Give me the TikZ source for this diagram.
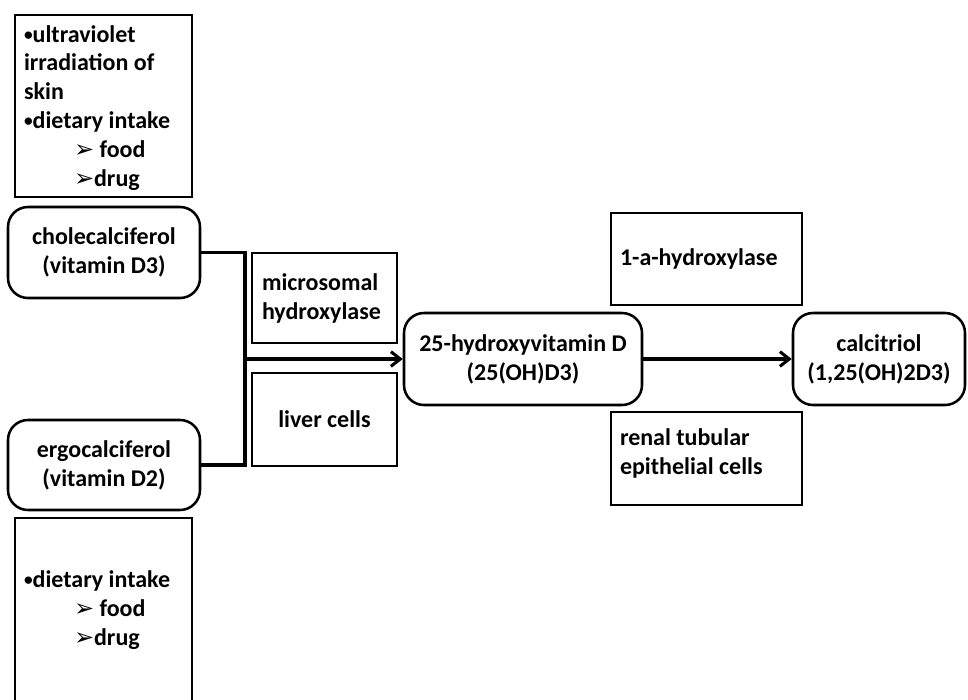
\documentclass[tikz,border=0pt]{standalone}
\usepackage{fontspec}
\setmainfont{Carlito}
\newfontfamily\symf{DejaVu Sans}
\usetikzlibrary{arrows.meta}
\newcommand{\arr}{{\symf\bfseries\fontsize{18}{21.7}\selectfont ➢}}
\newcommand{\blt}{\raisebox{1.5pt}{\fontsize{13}{13}\selectfont •}}
\begin{document}
\begin{tikzpicture}[x=0.75pt,y=-0.75pt,
  txt/.style={font=\bfseries\fontsize{18}{21.7}\selectfont, inner sep=0pt},
  box/.style={txt, draw, line width=1.9pt},
  rbox/.style={box, rounded corners=15pt, align=center},
  ltxt/.style={txt, anchor=west, align=left},
  conn/.style={line width=2.3pt},
  arrowc/.style={conn, -{Straight Barb[length=7pt,width=11pt,line width=2.3pt]}}]
\useasboundingbox (0,0) rectangle (968,700);
\clip (0,0) rectangle (968,700);
\fill[white] (0,0) rectangle (968,700);

% left source boxes
\node[box, minimum width=177*0.75pt, minimum height=182*0.75pt] (src1) at (103.5,106) {};
\node[ltxt] (src1t) at ([xshift=10*0.75pt,yshift=-1.5pt]src1.west) {%
\blt ultraviolet\\irradiation of\\skin\\\blt dietary intake\\
\hspace*{37.5pt}\arr\ food\\\hspace*{37.5pt}\arr drug};

\node[box, minimum width=177*0.75pt, minimum height=184*0.75pt] (src2) at (103.5,610) {};
\node[ltxt] (src2t) at ([xshift=10*0.75pt]src2.west) {%
\blt dietary intake\\
\hspace*{37.5pt}\arr\ food\\\hspace*{37.5pt}\arr drug};

% vitamin D forms
\node[rbox, minimum width=192*0.75pt, minimum height=91*0.75pt] (d3) at (104,252.5) {cholecalciferol\\(vitamin D3)};
\node[rbox, minimum width=192*0.75pt, minimum height=90*0.75pt] (d2) at (104,465) {ergocalciferol\\(vitamin D2)};

% liver step
\node[box, minimum width=145*0.75pt, minimum height=90*0.75pt] (micro) at (324.5,298) {};
\node[ltxt] (microt) at ([xshift=11*0.75pt]micro.west) {microsomal\\hydroxylase};
\node[box, minimum width=145*0.75pt, minimum height=93*0.75pt] (liver) at (324.5,419.5) {liver cells};

\node[rbox, minimum width=238*0.75pt, minimum height=92*0.75pt] (hyd) at (523,359) {25-hydroxyvitamin D\\(25(OH)D3)};

% kidney step
\node[box, minimum width=191*0.75pt, minimum height=92*0.75pt] (onea) at (706.5,259) {};
\node[ltxt] (oneat) at ([xshift=10*0.75pt]onea.west) {1-a-hydroxylase};
\node[box, minimum width=191*0.75pt, minimum height=93*0.75pt] (renal) at (706.5,458.5) {};
\node[ltxt] (renalt) at ([xshift=10*0.75pt,yshift=5*0.75pt]renal.west) {renal tubular\\epithelial cells};

\node[rbox, minimum width=172*0.75pt, minimum height=92*0.75pt] (calc) at (879,359) {calcitriol\\(1,25(OH)2D3)};

% connectors
\coordinate (j) at (245,359);
\draw[conn] (d3.east) -| (j);
\draw[conn] (d2.east) -| (j);
\draw[arrowc] (j) -- (hyd.west);
\draw[arrowc] (hyd.east) -- (calc.west);
\end{tikzpicture}
\end{document}
